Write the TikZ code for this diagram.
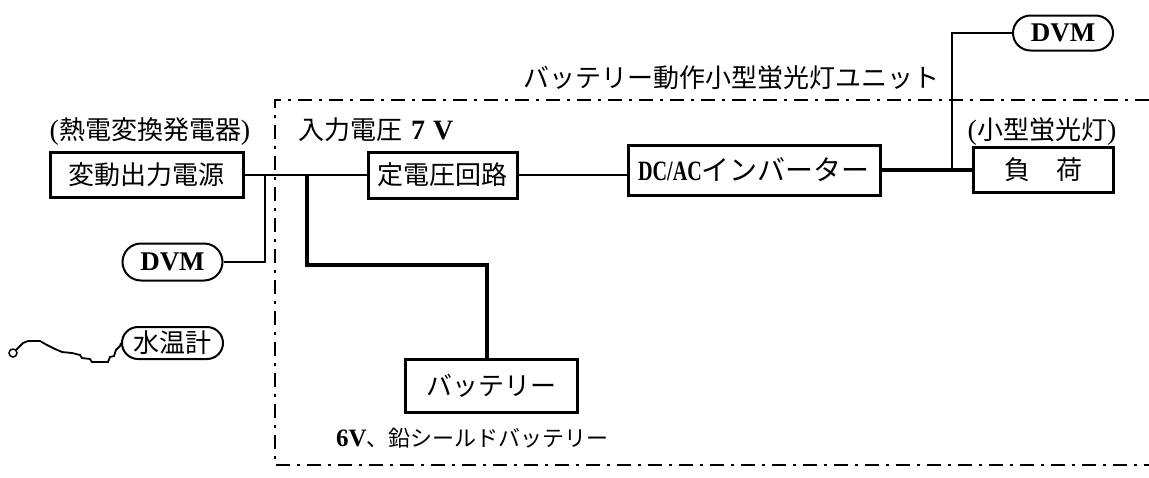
\documentclass[tikz,border=0pt]{standalone}
\usepackage{fontspec}
\usepackage{graphicx}
\setmainfont{Liberation Serif}
\newfontfamily\jp{Noto Sans CJK JP}
\newfontfamily\lat{Liberation Serif}
\newcommand\fsz[1]{\fontsize{#1}{#1}\selectfont}
\begin{document}
\begin{tikzpicture}[x=1pt,y=-1pt,
  box/.style={draw,line width=3pt,inner sep=0pt,font=\jp\fsz{26}},
  pill/.style={draw,line width=2pt,inner sep=0pt,font=\lat\bfseries\fsz{27}},
  lbl/.style={inner sep=0pt,font=\jp\fsz{26}},
  wire/.style={line width=2.4pt},
  thickwire/.style={line width=3.4pt},
  heavywire/.style={line width=4.8pt},
  border/.style={line width=2.2pt,dash pattern=on 14pt off 7pt on 3pt off 7pt}]
\useasboundingbox (0,0) rectangle (1149,477);

% dash-dot unit boundary
\draw[border] (1149,100) -- (275,100) -- (275,465) -- (1149,465);

% boxes
\node[box,minimum width=193pt,minimum height=45pt] (src) at (146.5,175) {変動出力電源};
\node[box,minimum width=149pt,minimum height=46pt] (reg) at (442.5,175) {定電圧回路};
\node[box,minimum width=252pt,minimum height=50pt,font=\jp\fsz{28}] (inv) at (754,170) {\scalebox{0.72}[1]{\lat\bfseries\fsz{28}DC/AC}インバーター};
\node[box,minimum width=140pt,minimum height=45pt] (load) at (1043,170) {負　荷};
\node[box,minimum width=172pt,minimum height=53pt] (bat) at (491,385.5) {バッテリー};

% pills
\node[pill,minimum width=100pt,minimum height=37pt,rounded corners=18.5pt] (dvmA) at (172.5,262) {DVM};
\node[pill,minimum width=100pt,minimum height=35pt,rounded corners=17.5pt] (dvmB) at (1063,33) {DVM};
\node[pill,minimum width=101pt,minimum height=32pt,rounded corners=16pt,font=\jp\fsz{26}] (therm) at (172.5,343) {水温計};

% labels
\node[lbl] (lsrc) at (150,132) {{\lat\fsz{28}(}熱電変換発電器{\lat\fsz{28})}};
\node[lbl] (ltitle) at (731,78) {バッテリー動作小型蛍光灯ユニット};
\node[lbl,anchor=west] (lvin) at (298,130) {入力電圧\hspace{9pt}{\lat\bfseries\fsz{28}7\hspace{8pt}V}};
\node[lbl] (lload) at (1042,132) {{\lat\fsz{28}(}小型蛍光灯{\lat\fsz{28})}};
\node[lbl,anchor=west,font=\jp\fsz{22}] (lbat) at (336,438) {{\lat\bfseries\fsz{25}6V}、鉛シールドバッテリー};

% junction coordinates
\coordinate (j1) at (265,175);
\coordinate (j2) at (307,175);
\coordinate (jb) at (487,265);
\coordinate (j3) at (952,170);

% connectors
\draw[wire] (src.east) -- (reg.west);
\draw[wire] (dvmA.east) -| (j1);
\draw[thickwire] (j2) |- (jb) -- (jb |- bat.north);
\draw[wire] (reg.east) -- (reg.east -| inv.west);
\draw[heavywire] (inv.east) -- (load.west);
\draw[wire] (j3) |- (dvmB.west);

% thermometer probe
\node[circle,draw,line width=1.5pt,minimum size=8pt,inner sep=0pt] (probe) at (13,353) {};
\draw[line width=1.8pt] (probe.north east) -- (23,343) -- (28,341) -- (40,341) -- (47,345) -- (55,349) -- (62,352)
  -- (72,353) -- (80,355) -- (82,358) -- (90,359) -- (92,362) -- (108,362) -- (110,357) -- (114,356)
  -- (116,350) -- (120,346) -- (therm.west);
\end{tikzpicture}
\end{document}
